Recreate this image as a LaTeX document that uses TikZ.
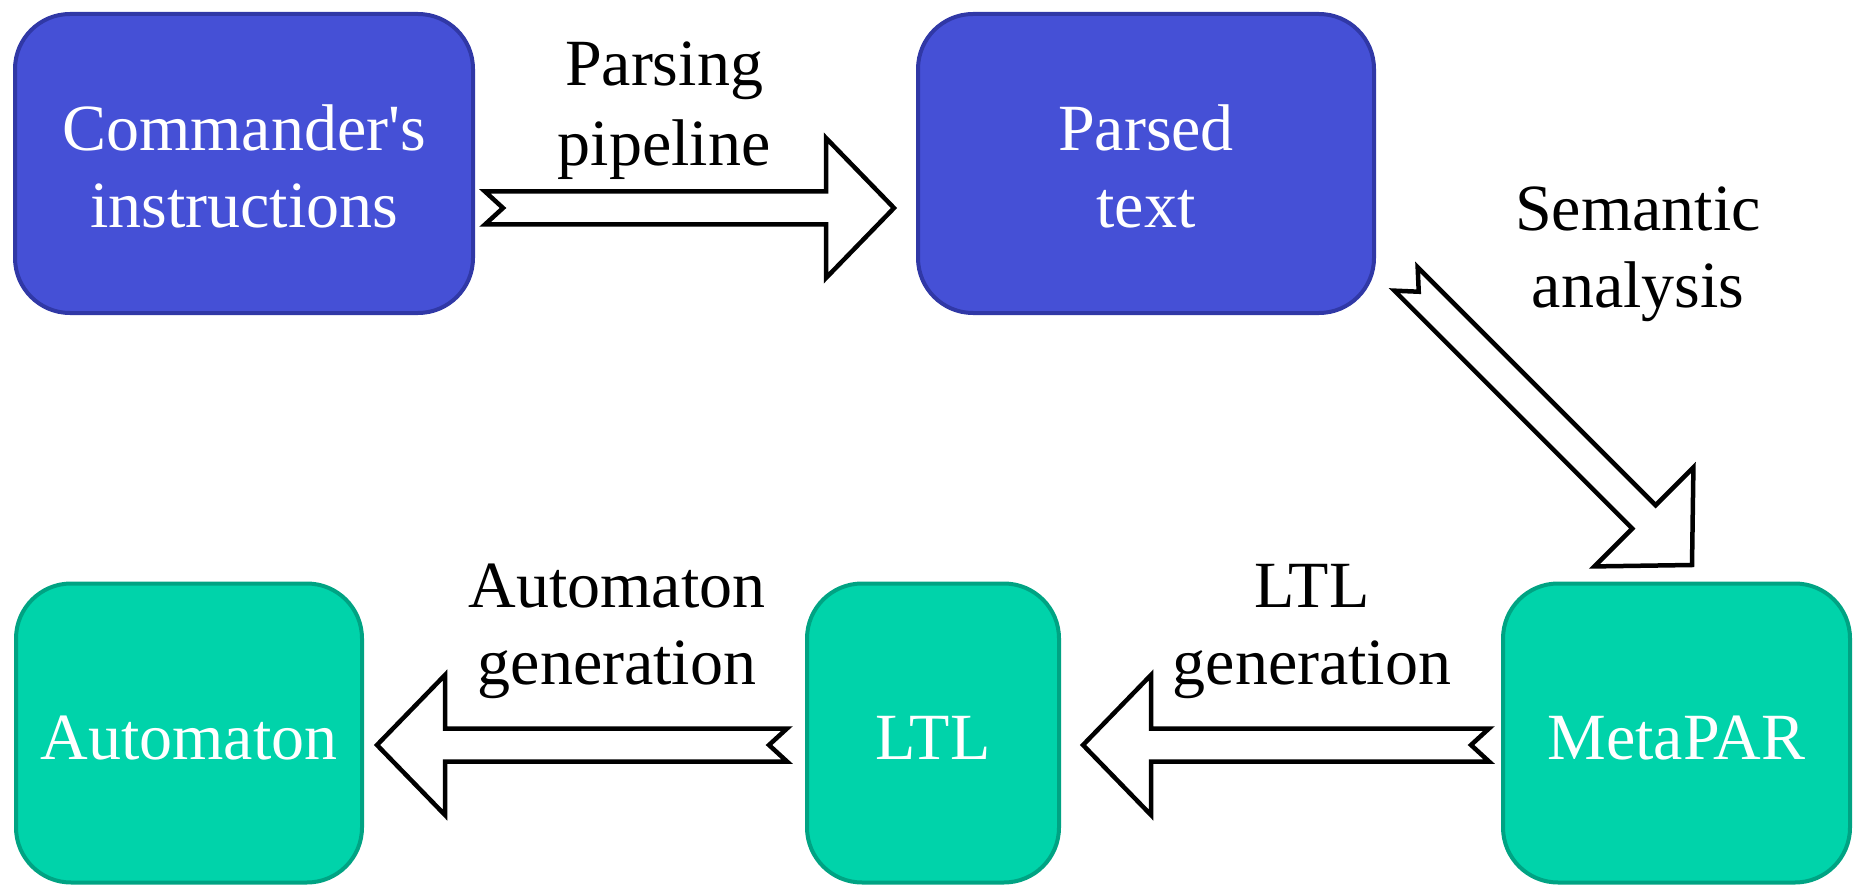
\documentclass[tikz,border=0pt]{standalone}
\usepackage{fontspec}
\setmainfont{Liberation Serif}
\usetikzlibrary{calc}
\definecolor{bluefill}{HTML}{4550D6}
\definecolor{blueline}{HTML}{3038A6}
\definecolor{greenfill}{HTML}{00D3AA}
\definecolor{greenline}{HTML}{00A383}
\newcommand{\lstrut}{\rule[-12pt]{0pt}{76pt}}
\begin{document}
\begin{tikzpicture}[x=1pt,y=-1pt,
  box/.style={rectangle, rounded corners=55pt, line width=4pt, minimum height=299pt,
    inner sep=0pt, align=center, text=white, font=\fontsize{66}{77}\selectfont},
  bluebox/.style={box, draw=blueline, fill=bluefill},
  greenbox/.style={box, draw=greenline, fill=greenfill},
  lbl/.style={align=center, inner sep=0pt, font=\fontsize{66}{77}\selectfont},
  blockarrow/.style={draw=black, fill=white, line width=4.5pt, line join=miter,
    to path={
      ($(\tikztostart)!16.5pt!90:(\tikztotarget)$)
      -- ($(\tikztotarget)!68pt!(\tikztostart)!16.5pt!-90:(\tikztostart)$)
      -- ($(\tikztotarget)!68pt!(\tikztostart)!70pt!-90:(\tikztostart)$)
      -- (\tikztotarget)
      -- ($(\tikztotarget)!68pt!(\tikztostart)!70pt!90:(\tikztostart)$)
      -- ($(\tikztotarget)!68pt!(\tikztostart)!16.5pt!90:(\tikztostart)$)
      -- ($(\tikztostart)!16.5pt!-90:(\tikztotarget)$)
      -- ($(\tikztostart)!18pt!(\tikztotarget)$)
      -- cycle}}]
\useasboundingbox (0,0) rectangle (1854,885);

% boxes
\node[bluebox, minimum width=458pt] (cmd) at (244,163.5) {\lstrut Commander\textquotesingle s\\\lstrut instructions};
\node[bluebox, minimum width=456pt] (parsed) at (1146,163.5) {\lstrut Parsed\\\lstrut text};
\node[greenbox, minimum width=347pt] (meta) at (1676.5,733) {\lstrut MetaPAR};
\node[greenbox, minimum width=252pt] (ltl) at (933,733) {\lstrut LTL};
\node[greenbox, minimum width=346pt] (auto) at (189,733) {\lstrut Automaton};

% arrow end points
\coordinate (a1s) at ($(cmd.east)+(10,44.5)$);
\coordinate (a1t) at ($(parsed.west)+(-22,44.5)$);
\coordinate (a2s) at (1406,279);
\coordinate (a2t) at (1692,565);
\coordinate (a3s) at ($(meta.west)+(-12,12)$);
\coordinate (a3t) at ($(ltl.east)+(22,12)$);
\coordinate (a4s) at ($(ltl.west)+(-18,12)$);
\coordinate (a4t) at ($(auto.east)+(13,12)$);

% arrows
\draw[blockarrow] (a1s) to (a1t);
\draw[blockarrow] (a2s) to (a2t);
\draw[blockarrow] (a3s) to (a3t);
\draw[blockarrow] (a4s) to (a4t);

% labels
\node[lbl] (l1) at (664,100.5) {\lstrut Parsing\\\lstrut pipeline};
\node[lbl] (l2) at (1638,244.5) {\lstrut Semantic\\\lstrut analysis};
\node[lbl] (l3) at (1312,621.5) {\lstrut LTL\\\lstrut generation};
\node[lbl] (l4) at (617,621.5) {\lstrut Automaton\\\lstrut generation};
\end{tikzpicture}
\end{document}
